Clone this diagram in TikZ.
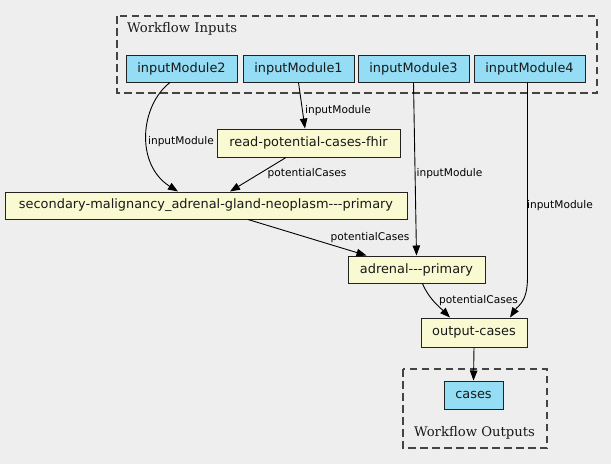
\documentclass[tikz,border=0pt]{standalone}
\usepackage{fontspec}
\setmainfont{DejaVu Sans}
\newfontfamily\titlefont{DejaVu Serif}
\usetikzlibrary{arrows.meta}
\definecolor{bg}{HTML}{EEEEEE}
\definecolor{inblue}{HTML}{94DDF5}
\definecolor{stepyellow}{HTML}{FAFAD2}
\definecolor{bordergray}{HTML}{222222}
\definecolor{clustergray}{HTML}{444444}
\tikzset{
  box/.style={draw=bordergray, line width=1pt, inner sep=0pt, minimum height=27pt,
    font=\fontsize{12.9}{15}\selectfont, text=black!90},
  iobox/.style={box, fill=inblue},
  stepbox/.style={box, fill=stepyellow},
  edge/.style={draw=black, line width=0.9pt, -{Triangle[length=10pt,width=7.5pt]}},
  elabel/.style={font=\fontsize{10.6}{12}\selectfont, inner sep=0pt},
  cluster/.style={draw=clustergray, line width=1.1pt, dash pattern=on 7.5pt off 4.5pt},
  ctitle/.style={font=\titlefont\fontsize{13.2}{15}\selectfont, inner sep=0pt, text=black!90}
}
\begin{document}
\begin{tikzpicture}[x=1pt,y=-1pt]
\fill[bg] (0,0) rectangle (611,464);
\useasboundingbox (0,0) rectangle (611,464);

% clusters
\draw[cluster] (117,16) rectangle (597,93);
\node[ctitle, anchor=west] (tin) at (127,29) {Workflow Inputs};
\draw[cluster] (403,369) rectangle (547,448);
\node[ctitle] (tout) at (474.5,433) {Workflow Outputs};

% nodes
\node[iobox, minimum width=111pt] (in2) at (181.5,68.5) {inputModule2};
\node[iobox, minimum width=111pt] (in1) at (298.5,68.5) {inputModule1};
\node[iobox, minimum width=111pt] (in3) at (413.5,68.5) {inputModule3};
\node[iobox, minimum width=111pt] (in4) at (529.5,68.5) {inputModule4};
\node[stepbox, minimum width=183pt, minimum height=28pt] (read) at (308.5,143) {read-potential-cases-fhir};
\node[stepbox, minimum width=402pt] (sec) at (206,205.5) {secondary-malignancy\_adrenal-gland-neoplasm-{}-{}-primary};
\node[stepbox, minimum width=137pt] (adr) at (416.5,269.5) {adrenal-{}-{}-primary};
\node[stepbox, minimum width=106pt, minimum height=29pt] (out) at (474,332.5) {output-cases};
\node[iobox, minimum width=59pt, minimum height=28pt] (cases) at (473.5,395) {cases};

% edges
\draw[edge] ([xshift=-11.5pt]in2.south) .. controls +(-30,23) and +(-43,-27) .. ([xshift=-28pt]sec.north);
\node[elabel] (l1) at (181,142) {inputModule};

\draw[edge] (in1.south) -- ([xshift=-3.5pt]read.north);
\node[elabel] (l2) at (338,111) {inputModule};

\draw[edge] ([xshift=-22.5pt]read.south) -- ([xshift=24pt]sec.north);
\node[elabel] (l3) at (307,174) {potentialCases};

\draw[edge] (in3.south) -- (adr.north);
\node[elabel] (l4) at (449.5,174) {inputModule};

\draw[edge] ([xshift=-2pt]in4.south) -- ++(0,195) .. controls +(0,25) and +(8,-12) .. ([xshift=36pt]out.north);
\node[elabel] (l5) at (560,206) {inputModule};

\draw[edge] ([xshift=42pt]sec.south) -- ([xshift=-50pt]adr.north);
\node[elabel] (l6) at (370,238) {potentialCases};

\draw[edge] ([xshift=6pt]adr.south) .. controls +(6,15) and +(-10,-10) .. ([xshift=-24pt]out.north);
\node[elabel] (l7) at (478.5,301) {potentialCases};

\draw[edge] (out.south) -- (cases.north);
\end{tikzpicture}
\end{document}
